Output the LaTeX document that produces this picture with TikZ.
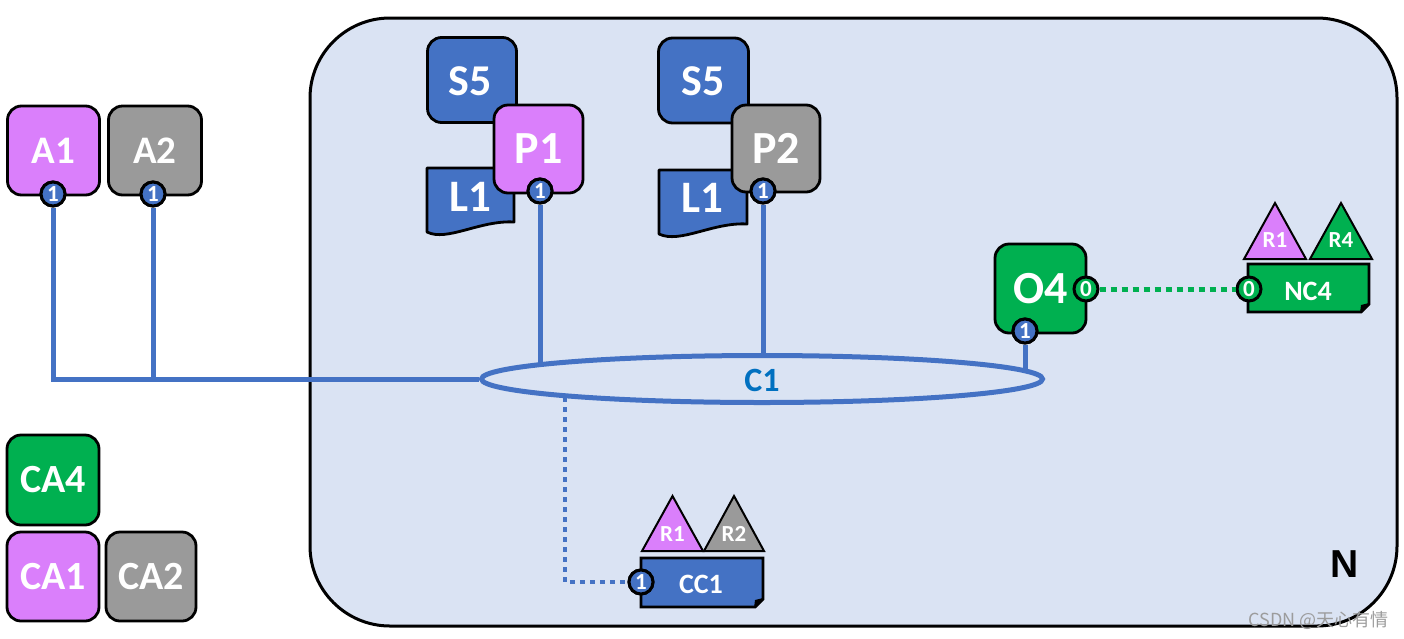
\documentclass[tikz,border=0pt]{standalone}
\usepackage{fontspec}
\setmainfont{Carlito}
\newfontfamily\cjkfont{Noto Sans CJK SC}
\newfontfamily\arialfont{Liberation Sans}
\usetikzlibrary{shapes.geometric,calc}
\definecolor{purp}{HTML}{DA7FFB}
\definecolor{grayb}{HTML}{9A9A9A}
\definecolor{myblue}{HTML}{4472C4}
\definecolor{mygreen}{HTML}{00B050}
\definecolor{bgblue}{HTML}{DAE3F3}
\definecolor{cone}{HTML}{0070C0}
\definecolor{wmgray}{HTML}{9C9C9C}
\newcommand{\fs}[1]{\bfseries\fontsize{#1}{#1}\selectfont}
\tikzset{
  rbox/.style={draw=black, line width=2.8pt, rounded corners=14pt, text=white, inner sep=0pt, font=\fs{39}},
  port/.style={circle, draw=black, line width=3pt, minimum size=24pt, inner sep=0pt, text=white, font=\fs{23}},
  conn/.style={draw=myblue, line width=5pt},
  bdot/.style={draw=myblue, line width=4pt, dash pattern=on 5pt off 5pt},
  gdot/.style={draw=mygreen, line width=5pt, dash pattern=on 6pt off 5pt},
  doc/.style={fill=myblue, draw=black, line width=2.8pt, line join=round},
  tri/.style={draw=black, line width=2pt, line join=miter},
  lbl/.style={text=white, inner sep=0pt},
}
\begin{document}
\begin{tikzpicture}[x=1pt,y=-1pt]
\useasboundingbox (0,0) rectangle (1404,638);
% network N
\draw[fill=bgblue, draw=black, line width=3pt, rounded corners=80pt] (310,18) rectangle (1397,626);
\node[font=\arialfont\bfseries\fontsize{39}{39}\selectfont, inner sep=0pt] (N) at (1345,564) {N};

% channel ellipse
\node[ellipse, draw=myblue, line width=5pt, minimum width=561pt, minimum height=47pt, inner sep=0pt] (C1) at (762,379) {};
\node[text=cone, font=\fs{34}, inner sep=0pt] (C1t) at (762,380) {C1};

% applications
\node[rbox, fill=purp, minimum width=92pt, minimum height=89pt] (A1) at (53.5,150.5) {A1};
\node[rbox, fill=grayb, minimum width=93pt, minimum height=89pt] (A2) at (155,150.5) {A2};
\node[port, fill=myblue] (A1p) at (53,194) {1};
\node[port, fill=myblue] (A2p) at (153,194) {1};

% peer 1 group
\node[rbox, fill=myblue, minimum width=89pt, minimum height=85pt] (S5a) at (472,80) {};
\node[lbl, font=\fs{44}] (S5at) at (470,81) {S5};
\draw[doc] (427,168) -- (514,168) -- (514,222) .. controls (480,220) and (447,242) .. (427,232) -- cycle;
\node[lbl, font=\fs{45}] (L1a) at (470,197) {L1};
\node[rbox, fill=purp, minimum width=89pt, minimum height=88pt, font=\fs{46}] (P1) at (538.5,149) {P1};
\node[port, fill=myblue] (P1p) at (540,191) {1};

% peer 2 group
\node[rbox, fill=myblue, minimum width=90pt, minimum height=85pt] (S5b) at (703.5,80.5) {};
\node[lbl, font=\fs{44}] (S5bt) at (703,81) {S5};
\draw[doc] (659,170) -- (747,170) -- (747,224) .. controls (713,222) and (680,244) .. (659,234) -- cycle;
\node[lbl, font=\fs{45}] (L1b) at (702,198) {L1};
\node[rbox, fill=grayb, minimum width=88pt, minimum height=87pt, font=\fs{46}] (P2) at (776,148.5) {P2};
\node[port, fill=myblue] (P2p) at (763,191) {1};

% orderer
\node[rbox, fill=mygreen, minimum width=91pt, minimum height=89pt, font=\fs{46}] (O4) at (1040.5,288.5) {O4};
\node[port, fill=mygreen] (O4p0) at (1086,289) {0};
\node[port, fill=myblue] (O4p1) at (1025,331) {1};

% NC4
\draw[tri, fill=purp] (1244,259) -- (1306,259) -- (1275,203) -- cycle;
\draw[tri, fill=mygreen] (1310,259) -- (1372,259) -- (1341,203) -- cycle;
\node[lbl, font=\fs{23}] (R1a) at (1275,240) {R1};
\node[lbl, font=\fs{23}] (R4) at (1341,240) {R4};
\draw[fill=mygreen, draw=black, line width=2.8pt] (1248,264) -- (1369,264) -- (1369,304) -- (1361,312) -- (1248,312) -- cycle;
\fill[black] (1369,303) -- (1360,313) -- (1361,305) -- cycle;
\node[lbl, font=\fs{28}] (NC4) at (1308,291) {NC4};
\node[port, fill=mygreen] (NC4p) at (1249,289) {0};

% CC1
\draw[tri, fill=purp] (642,551) -- (703,551) -- (672.5,496) -- cycle;
\draw[tri, fill=grayb] (704,551) -- (764,551) -- (734,496) -- cycle;
\node[lbl, font=\fs{23}] (R1b) at (672.5,534) {R1};
\node[lbl, font=\fs{23}] (R2) at (734,534) {R2};
\draw[fill=myblue, draw=black, line width=2.8pt] (641,558) -- (763,558) -- (763,599) -- (755,607) -- (641,607) -- cycle;
\fill[black] (763,598) -- (754,608) -- (755,600) -- cycle;
\node[lbl, font=\fs{28}] (CC1) at (701,584) {CC1};
\node[port, fill=myblue] (CC1p) at (641,582) {1};

% certificate authorities
\node[rbox, fill=mygreen, minimum width=92pt, minimum height=90pt, font=\fs{40}] (CA4) at (53,480) {CA4};
\node[rbox, fill=purp, minimum width=92pt, minimum height=89pt, font=\fs{40}] (CA1) at (53,576.5) {CA1};
\node[rbox, fill=grayb, minimum width=90pt, minimum height=89pt, font=\fs{40}] (CA2) at (151,576.5) {CA2};

% connectors
\draw[conn] (A1p) |- (C1.west);
\draw[conn] (A2p) -- (A2p |- C1.west);
\draw[conn] (P1p) -- ($(C1.center)+(-222,-15)$);
\draw[conn] (P2p) -- (P2p |- C1.north);
\draw[conn] (O4p1) -- ($(C1.center)+(263,-9)$);
\draw[gdot] (O4p0) -- (NC4p);
\coordinate (cdot) at ($(C1.center)+(-197,18)$);
\draw[bdot] (cdot) |- (CC1p);

% redraw ports on top
\node[port, fill=myblue] at (A1p) {1};
\node[port, fill=myblue] at (A2p) {1};
\node[port, fill=myblue] at (P1p) {1};
\node[port, fill=myblue] at (P2p) {1};
\node[port, fill=myblue] at (O4p1) {1};
\node[port, fill=myblue] at (CC1p) {1};

% watermark
\node[text=wmgray, font=\cjkfont\fontsize{18}{18}\selectfont, anchor=east, inner sep=0pt] (wm) at (1389,620) {CSDN @天心有情};
\end{tikzpicture}
\end{document}
